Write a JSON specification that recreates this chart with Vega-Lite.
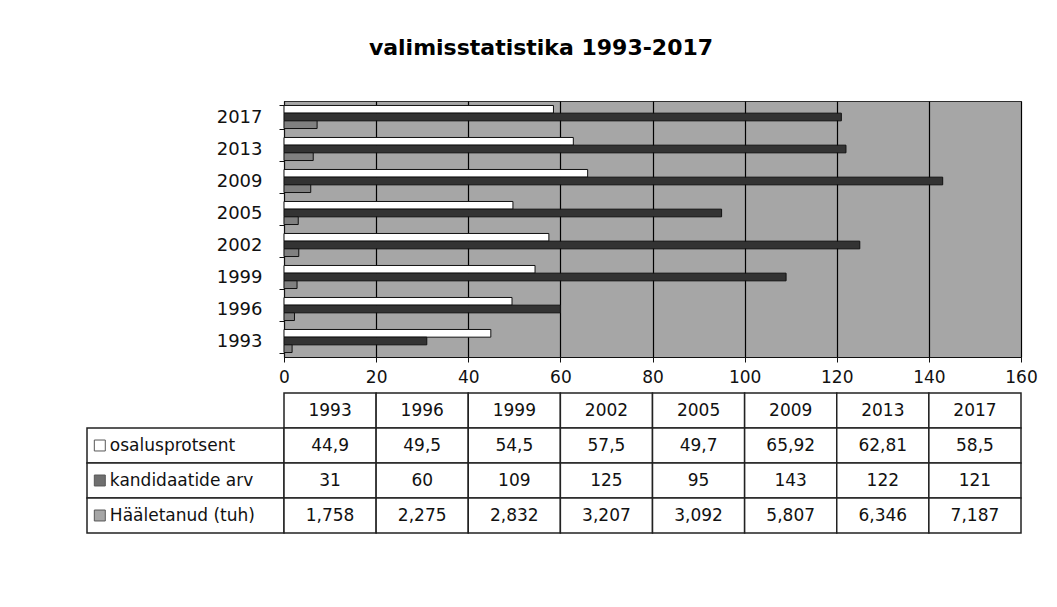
{
  "$schema": "https://vega.github.io/schema/vega-lite/v6.json",
  "padding": {"left": 86, "top": 36, "right": 30, "bottom": 20},
  "background": "white",
  "title": {"text": "valimisstatistika 1993-2017", "font": "DejaVu Sans", "fontSize": 22, "fontWeight": "bold", "color": "#000", "anchor": "middle", "dx": -21, "offset": 32},
  "datasets": {
    "stats": [
      {"year": "1993", "series": "osalusprotsent", "value": 44.9},
      {"year": "1996", "series": "osalusprotsent", "value": 49.5},
      {"year": "1999", "series": "osalusprotsent", "value": 54.5},
      {"year": "2002", "series": "osalusprotsent", "value": 57.5},
      {"year": "2005", "series": "osalusprotsent", "value": 49.7},
      {"year": "2009", "series": "osalusprotsent", "value": 65.92},
      {"year": "2013", "series": "osalusprotsent", "value": 62.81},
      {"year": "2017", "series": "osalusprotsent", "value": 58.5},
      {"year": "1993", "series": "kandidaatide arv", "value": 31},
      {"year": "1996", "series": "kandidaatide arv", "value": 60},
      {"year": "1999", "series": "kandidaatide arv", "value": 109},
      {"year": "2002", "series": "kandidaatide arv", "value": 125},
      {"year": "2005", "series": "kandidaatide arv", "value": 95},
      {"year": "2009", "series": "kandidaatide arv", "value": 143},
      {"year": "2013", "series": "kandidaatide arv", "value": 122},
      {"year": "2017", "series": "kandidaatide arv", "value": 121},
      {"year": "1993", "series": "Hääletanud (tuh)", "value": 1.758},
      {"year": "1996", "series": "Hääletanud (tuh)", "value": 2.275},
      {"year": "1999", "series": "Hääletanud (tuh)", "value": 2.832},
      {"year": "2002", "series": "Hääletanud (tuh)", "value": 3.207},
      {"year": "2005", "series": "Hääletanud (tuh)", "value": 3.092},
      {"year": "2009", "series": "Hääletanud (tuh)", "value": 5.807},
      {"year": "2013", "series": "Hääletanud (tuh)", "value": 6.346},
      {"year": "2017", "series": "Hääletanud (tuh)", "value": 7.187}
    ]
  },
  "data": {"name": "stats"},
  "columns": 2,
  "bounds": "flush",
  "spacing": {"row": 36, "column": 0},
  "concat": [
    {
      "width": 197, "height": 256,
      "data": {"values": [{}]},
      "mark": {"type": "text"},
      "encoding": {"text": {"value": ""}}
    },
    {
      "width": 737, "height": 256,
      "view": {"fill": "#a6a6a6", "stroke": "#303030", "strokeWidth": 1},
      "mark": {"type": "bar", "stroke": "#111", "strokeWidth": 1},
      "encoding": {
        "y": {"field": "year", "type": "nominal", "sort": "descending", "title": null,
          "scale": {"paddingInner": 0.28, "paddingOuter": 0.14},
          "axis": {"labelFont": "DejaVu Sans", "labelFontSize": 18, "labelColor": "#111", "tickBand": "extent", "tickSize": 5, "tickColor": "#111", "domainColor": "#111", "labelPadding": 17}},
        "yOffset": {"field": "series", "type": "nominal", "scale": {"domain": ["osalusprotsent", "kandidaatide arv", "Hääletanud (tuh)"]}},
        "x": {"field": "value", "type": "quantitative", "title": null,
          "scale": {"domain": [0, 160], "nice": false},
          "axis": {"values": [0, 20, 40, 60, 80, 100, 120, 140, 160], "grid": true, "gridColor": "#000", "gridWidth": 1.2, "gridOpacity": 1, "labelFont": "DejaVu Sans", "labelFontSize": 17, "labelColor": "#111", "tickSize": 5, "tickColor": "#111", "domainColor": "#111", "labelPadding": 7, "labelFlush": false}},
        "color": {"field": "series", "type": "nominal", "legend": null,
          "scale": {"domain": ["osalusprotsent", "kandidaatide arv", "Hääletanud (tuh)"], "range": ["#ffffff", "#333333", "#808080"]}}
      }
    },
    {
      "width": 197, "height": 140,
      "transform": [{"filter": "datum.year == '1993'"}],
      "encoding": {
        "y": {"field": "series", "type": "nominal", "axis": null,
          "scale": {"domain": ["hdr", "osalusprotsent", "kandidaatide arv", "Hääletanud (tuh)"], "paddingInner": 0, "paddingOuter": 0}}
      },
      "layer": [
        {"mark": {"type": "rect", "fill": "white", "stroke": "#222", "strokeWidth": 1.5}},
        {"mark": {"type": "point", "shape": "square", "filled": true, "size": 120, "stroke": "#111", "strokeWidth": 1},
         "encoding": {
           "x": {"datum": 6.5, "type": "quantitative", "scale": {"domain": [0, 100]}, "axis": null},
           "color": {"field": "series", "type": "nominal", "legend": null,
             "scale": {"domain": ["osalusprotsent", "kandidaatide arv", "Hääletanud (tuh)"], "range": ["#ffffff", "#333333", "#808080"]}}
         }},
        {"mark": {"type": "text", "align": "left", "baseline": "middle", "font": "DejaVu Sans", "fontSize": 17, "color": "#111"},
         "encoding": {
           "x": {"datum": 11.6, "type": "quantitative", "scale": {"domain": [0, 100]}, "axis": null},
           "text": {"field": "series"}
         }}
      ]
    },
    {
      "width": 737, "height": 140,
      "encoding": {
        "x": {"field": "year", "type": "nominal", "axis": null, "scale": {"paddingInner": 0, "paddingOuter": 0}}
      },
      "layer": [
        {"transform": [{"filter": "datum.series == 'osalusprotsent'"}],
         "mark": {"type": "rect", "fill": "white", "stroke": "#222", "strokeWidth": 1.5},
         "encoding": {"y": {"datum": "hdr", "type": "nominal", "axis": null,
           "scale": {"domain": ["hdr", "osalusprotsent", "kandidaatide arv", "Hääletanud (tuh)"], "paddingInner": 0, "paddingOuter": 0}}}},
        {"mark": {"type": "rect", "fill": "white", "stroke": "#222", "strokeWidth": 1.5},
         "encoding": {"y": {"field": "series", "type": "nominal"}}},
        {"transform": [{"filter": "datum.series == 'osalusprotsent'"}],
         "mark": {"type": "text", "baseline": "middle", "font": "DejaVu Sans", "fontSize": 17, "color": "#111"},
         "encoding": {"y": {"datum": "hdr", "type": "nominal"}, "text": {"field": "year"}}},
        {"mark": {"type": "text", "baseline": "middle", "font": "DejaVu Sans", "fontSize": 17, "color": "#111"},
         "encoding": {"y": {"field": "series", "type": "nominal"}, "text": {"field": "value", "type": "quantitative"}}}
      ]
    }
  ],
  "config": {
    "view": {"stroke": null},
    "locale": {"number": {"decimal": ",", "thousands": " ", "grouping": [3], "currency": ["", ""]}}
  }
}
